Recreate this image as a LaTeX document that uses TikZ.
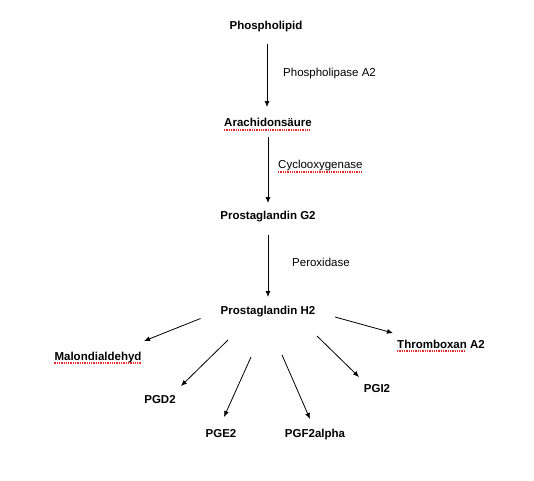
\documentclass[tikz,border=0pt]{standalone}
\usepackage{fontspec}
\setmainfont{Liberation Sans}
\usetikzlibrary{arrows.meta}
\definecolor{spellred}{RGB}{230,40,40}
\begin{document}
\begin{tikzpicture}[x=1pt,y=-1pt,
  comp/.style={font=\fontsize{11.5}{13}\selectfont\bfseries,inner sep=0pt,anchor=base},
  enz/.style={font=\fontsize{11.5}{13}\selectfont,inner sep=0pt,anchor=base west},
  arr/.style={line width=0.8pt,-{Latex[length=6pt,width=5pt]}},
  squig/.style={spellred,line width=1.2pt,dash pattern=on 1.3pt off 1pt}]
\useasboundingbox (0,0) rectangle (534,480);
% compounds
\node[comp] (pl) at (266,29) {Phospholipid};
\node[comp] (aa) at (268,126) {Arachidonsäure};
\node[comp] (g2) at (268,219) {Prostaglandin G2};
\node[comp] (h2) at (268,314) {Prostaglandin H2};
\node[comp] (mda) at (98,360) {Malondialdehyd};
\node[comp] (txa) at (441,348) {Thromboxan A2};
\node[comp] (pgd) at (160,403) {PGD2};
\node[comp] (pge) at (221,437) {PGE2};
\node[comp] (pgf) at (315,437) {PGF2alpha};
\node[comp] (pgi) at (377,392) {PGI2};
% enzymes
\node[enz] (e1) at (283,76) {Phospholipase A2};
\node[enz] (e2) at (278,168) {Cyclooxygenase};
\node[enz] (e3) at (292,266) {Peroxidase};
% arrow ends
\coordinate (a1s) at (267,44);  \coordinate (a1e) at (267,107);
\coordinate (a2s) at (268,137); \coordinate (a2e) at (268,203);
\coordinate (a3s) at (268,235); \coordinate (a3e) at (268,297);
\coordinate (bms) at (200.5,318.5); \coordinate (bme) at (144,341);
\coordinate (bts) at (335,317); \coordinate (bte) at (393,333);
\coordinate (bds) at (228,340); \coordinate (bde) at (181,386);
\coordinate (bes) at (251,357); \coordinate (bee) at (224,417);
\coordinate (bfs) at (282,355); \coordinate (bfe) at (310,419);
\coordinate (bis) at (317,336); \coordinate (bie) at (359,377);
\draw[arr] (a1s) -- (a1e);
\draw[arr] (a2s) -- (a2e);
\draw[arr] (a3s) -- (a3e);
\draw[arr] (bms) -- (bme);
\draw[arr] (bts) -- (bte);
\draw[arr] (bds) -- (bde);
\draw[arr] (bes) -- (bee);
\draw[arr] (bfs) -- (bfe);
\draw[arr] (bis) -- (bie);
% spell-check underlines
\draw[squig] (aa.base west) ++(0,4) -- ++(87,0);
\draw[squig] (e2.base west) ++(0,4) -- ++(84,0);
\draw[squig] (mda.base west) ++(0,3) -- ++(87,0);
\draw[squig] (txa.base west) ++(0,3) -- ++(68,0);
\end{tikzpicture}
\end{document}
